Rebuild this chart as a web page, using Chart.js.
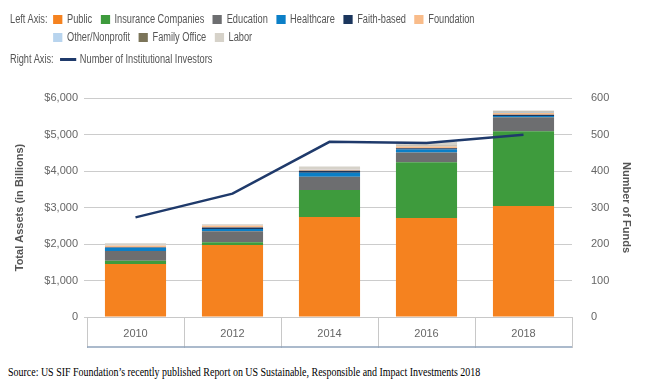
<!DOCTYPE html>
<html>
<head>
<meta charset="utf-8">
<script src="https://cdn.jsdelivr.net/npm/chart.js@4.4.1/dist/chart.umd.min.js"></script>
<style>
  body { margin: 0; background: #fff; width: 645px; height: 386px; position: relative; overflow: hidden; }
  #wrap { position: absolute; left: 0; top: 0; width: 645px; height: 352px; }
  #legend { position: absolute; left: 10px; top: 10px; font-family: "Liberation Sans", Arial, sans-serif; font-size: 12px; color: #555; white-space: nowrap; transform: scaleX(0.77); transform-origin: 0 0; }
  .row { display: flex; align-items: center; height: 18px; }
  .lab { width: 56px; }
  .item { display: flex; align-items: center; margin-right: 11px; }
  .sw { width: 12px; height: 9px; margin-right: 6px; }
  .ln { width: 21px; height: 3px; margin-right: 5px; margin-left: 8px; }
  #source { position: absolute; left: 8px; top: 365px; font-family: "Liberation Serif", "Times New Roman", serif; font-size: 12px; color: #000; white-space: nowrap; transform: scaleX(0.83); transform-origin: 0 0; }
</style>
</head>
<body>
<div id="wrap"><canvas id="chart" width="645" height="352"></canvas></div>
<div id="legend"></div>
<div id="source">Source: US SIF Foundation’s recently published Report on US Sustainable, Responsible and Impact Investments 2018</div>
<script>
// years on the x axis
const years = ['2010', '2012', '2014', '2016', '2018'];

// assets by investor type, $ billions
const publicFunds   = [1450, 1970, 2740, 2710, 3040];
const insurance     = [90, 80, 740, 1530, 2050];
const education     = [270, 300, 360, 270, 380];
const healthcare    = [90, 60, 110, 80, 40];
const faithBased    = [10, 40, 55, 30, 30];
const foundation    = [50, 60, 30, 50, 50];
const otherNonprof  = [10, 10, 10, 10, 10];
const familyOffice  = [0, 0, 0, 10, 20];
const labor         = [50, 20, 80, 110, 40];

// right axis
const investors = [273, 338, 480, 477, 499];

const seriesNames  = ['Public', 'Insurance Companies', 'Education', 'Healthcare', 'Faith-based', 'Foundation', 'Other/Nonprofit', 'Family Office', 'Labor'];
const seriesValues = [publicFunds, insurance, education, healthcare, faithBased, foundation, otherNonprof, familyOffice, labor];
const seriesColors = ['#f5821f', '#3e9b3d', '#6d6e70', '#0b7fc7', '#1b365d', '#f9bc8a', '#b8d4ee', '#7b7459', '#d6d2c9'];
const lineColor = '#1f3a6b';

const barSets = seriesNames.map((name, i) => ({
  label: name,
  data: seriesValues[i],
  backgroundColor: seriesColors[i],
  borderWidth: 0,
  stack: 'assets',
  yAxisID: 'y',
  order: 2,
  categoryPercentage: 1,
  barPercentage: 0.63
}));

const lineSet = {
  type: 'line',
  label: 'Number of Institutional Investors',
  data: investors,
  borderColor: lineColor,
  borderWidth: 2.5,
  pointRadius: 0,
  tension: 0,
  fill: false,
  yAxisID: 'y1',
  stack: 'line',
  order: 0
};

// html legend, two "axis" groups like the original
let leg = document.getElementById('legend');
let html = '<div class="row"><span class="lab">Left Axis:</span>';
seriesNames.forEach((n, i) => {
  if (i == 6) html += '</div><div class="row"><span class="lab"></span>';
  html += '<span class="item"><span class="sw" style="background:' + seriesColors[i] + '"></span>' + n + '</span>';
});
html += '</div><div class="row" style="margin-top:4px"><span>Right Axis:</span><span class="ln" style="background:' + lineColor + '"></span>' + lineSet.label + '</div>';
leg.innerHTML = html;

// line under the category boxes
const boxBottom = {
  id: 'boxBottom',
  afterDraw(chart) {
    const ctx = chart.ctx;
    const a = chart.chartArea;
    const xs = chart.scales.x;
    ctx.save();
    ctx.strokeStyle = '#8fa3bb';
    ctx.lineWidth = 1.5;
    ctx.beginPath();
    ctx.moveTo(a.left, xs.bottom - 1);
    ctx.lineTo(a.right, xs.bottom - 1);
    ctx.stroke();
    ctx.restore();
  }
};

const tickFont = { family: 'Liberation Sans, Arial, sans-serif', size: 11 };
const titleFont = { family: 'Liberation Sans, Arial, sans-serif', size: 11, weight: 'bold' };

new Chart(document.getElementById('chart'), {
  type: 'bar',
  data: { labels: years, datasets: [...barSets, lineSet] },
  options: {
    responsive: false,
    animation: false,
    devicePixelRatio: 1,
    layout: { padding: { top: 98, left: 9, right: 8, bottom: 4 } },
    plugins: { legend: { display: false }, tooltip: { enabled: false } },
    scales: {
      x: {
        stacked: true,
        offset: true,
        grid: { offset: true, drawOnChartArea: false, tickLength: 31, color: '#c8c8c8' },
        border: { display: true, color: '#c8c8c8' },
        ticks: { color: '#666', font: tickFont, padding: -21 },
        afterFit(s) { s.height = 31; }
      },
      y: {
        stacked: true,
        position: 'left',
        min: 0,
        max: 6000,
        grid: { color: '#cccccc', tickLength: 3 },
        border: { display: false },
        ticks: {
          stepSize: 1000,
          color: '#666',
          font: tickFont,
          padding: 6,
          callback: v => v == 0 ? '0' : '$' + v.toLocaleString('en-US')
        },
        title: { display: true, text: 'Total Assets (in Billions)', color: '#555', font: titleFont },
        afterFit(s) { s.width = 78; }
      },
      y1: {
        position: 'right',
        min: 0,
        max: 600,
        grid: { display: false },
        border: { display: false },
        ticks: { stepSize: 100, color: '#666', font: tickFont, padding: 11 },
        title: { display: true, text: 'Number of Funds', color: '#555', font: titleFont },
        afterFit(s) { s.width = 65; }
      }
    }
  },
  plugins: [boxBottom]
});
</script>
</body>
</html>
